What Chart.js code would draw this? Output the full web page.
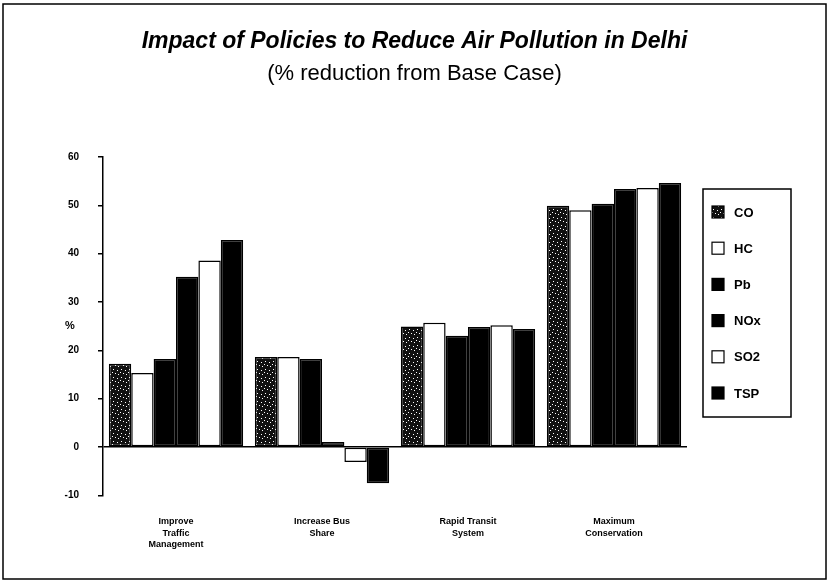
<!DOCTYPE html>
<html>
<head>
<meta charset="utf-8">
<title>Impact of Policies to Reduce Air Pollution in Delhi</title>
<script src="https://cdn.jsdelivr.net/npm/chart.js@4/dist/chart.umd.min.js"></script>
<style>
  html, body { margin: 0; padding: 0; background: #fff; }
  canvas { display: block; }
</style>
</head>
<body>
<canvas id="policyChart" width="829" height="583"></canvas>
<script>
const CATEGORIES = [
  ["Improve", "Traffic", "Management"],
  ["Increase Bus", "Share"],
  ["Rapid Transit", "System"],
  ["Maximum", "Conservation"]
];

const CO  = [17.2, 18.6, 24.9, 49.9];
const HC  = [15.3, 18.6, 25.7, 49.0];
const PB  = [18.2, 18.2, 23.0, 50.3];
const NOX = [35.2, 1.0, 24.8, 53.4];
const SO2 = [38.6, -3.1, 25.2, 53.6];
const TSP = [42.8, -7.5, 24.4, 54.6];

const Y_TICKS = [-10, 0, 10, 20, 30, 40, 50, 60];

const FONT = "'Liberation Sans', Arial, sans-serif";

// speckled fill for CO (scanned halftone look)
function speckle() {
  const c = document.createElement("canvas");
  c.width = 8;
  c.height = 8;
  const g = c.getContext("2d");
  g.fillStyle = "#111";
  g.fillRect(0, 0, 8, 8);
  g.fillStyle = "#fff";
  [[1, 1], [5, 2], [3, 5], [6, 6], [0, 4]].forEach(p => g.fillRect(p[0], p[1], 1, 1));
  return g.createPattern(c, "repeat");
}
const coFill = speckle();

function series(label, data, fill) {
  return {
    label: label,
    data: data,
    backgroundColor: fill,
    borderColor: "#000",
    borderWidth: 1.5,
    borderSkipped: false
  };
}

// outer frame, "%" axis label and boxed legend
const extras = {
  id: "extras",
  afterDraw(chart) {
    const ctx = chart.ctx;
    const area = chart.chartArea;
    ctx.save();
    ctx.strokeStyle = "#000";
    ctx.lineWidth = 1.5;
    ctx.strokeRect(3, 4, 823, 575);

    ctx.fillStyle = "#000";
    ctx.font = "bold 11px " + FONT;
    ctx.textAlign = "center";
    ctx.textBaseline = "middle";
    ctx.fillText("%", area.left - 33, (area.top + area.bottom) / 2);

    const boxX = area.right + 16;
    const boxY = 189;
    ctx.lineWidth = 1.5;
    ctx.strokeRect(boxX, boxY, 88, 228);
    ctx.font = "bold 13px " + FONT;
    ctx.textAlign = "left";
    chart.data.datasets.forEach((ds, i) => {
      const cy = boxY + 23 + i * 36.2;
      ctx.fillStyle = ds.backgroundColor;
      ctx.fillRect(boxX + 9, cy - 6, 12, 12);
      ctx.lineWidth = 1.2;
      ctx.strokeRect(boxX + 9, cy - 6, 12, 12);
      ctx.fillStyle = "#000";
      ctx.fillText(ds.label, boxX + 31, cy + 1);
    });
    ctx.restore();
  }
};

new Chart(document.getElementById("policyChart"), {
  type: "bar",
  data: {
    labels: CATEGORIES,
    datasets: [
      series("CO", CO, coFill),
      series("HC", HC, "#fff"),
      series("Pb", PB, "#000"),
      series("NOx", NOX, "#000"),
      series("SO2", SO2, "#fff"),
      series("TSP", TSP, "#000")
    ]
  },
  options: {
    responsive: false,
    animation: false,
    devicePixelRatio: 1,
    layout: { padding: { left: 0, right: 0, bottom: 20 } },
    datasets: { bar: { barPercentage: 1, categoryPercentage: 0.92 } },
    plugins: {
      legend: { display: false },
      tooltip: { enabled: false },
      title: {
        display: true,
        text: "Impact of Policies to Reduce Air Pollution in Delhi",
        color: "#000",
        font: { family: FONT, size: 23, weight: "bold", style: "italic" },
        padding: { top: 28, bottom: 2 }
      },
      subtitle: {
        display: true,
        text: "(% reduction from Base Case)",
        color: "#000",
        font: { family: FONT, size: 22 },
        padding: { top: 3, bottom: 70 }
      }
    },
    scales: {
      x: {
        grid: { display: false },
        border: { display: false },
        ticks: {
          color: "#000",
          maxRotation: 0,
          padding: 13,
          font: { family: FONT, size: 9, weight: "bold", lineHeight: 1.25 }
        }
      },
      y: {
        min: -10,
        max: 60,
        afterBuildTicks: axis => { axis.ticks = Y_TICKS.map(v => ({ value: v })); },
        afterFit: axis => { axis.width = 103; },
        border: { display: true, color: "#000", width: 1.5 },
        grid: {
          color: c => (c.tick && c.tick.value === 0 ? "#000" : "rgba(0,0,0,0)"),
          tickColor: "#000",
          tickLength: 5,
          lineWidth: 1.5
        },
        ticks: {
          color: "#000",
          padding: 19,
          font: { family: FONT, size: 10, weight: "bold" }
        }
      },
      // empty right-hand axis that keeps room for the boxed legend
      legendRoom: {
        type: "linear",
        position: "right",
        display: true,
        afterFit: axis => { axis.width = 142; },
        grid: { display: false },
        border: { display: false },
        ticks: { display: false }
      }
    }
  },
  plugins: [extras]
});
</script>
</body>
</html>
